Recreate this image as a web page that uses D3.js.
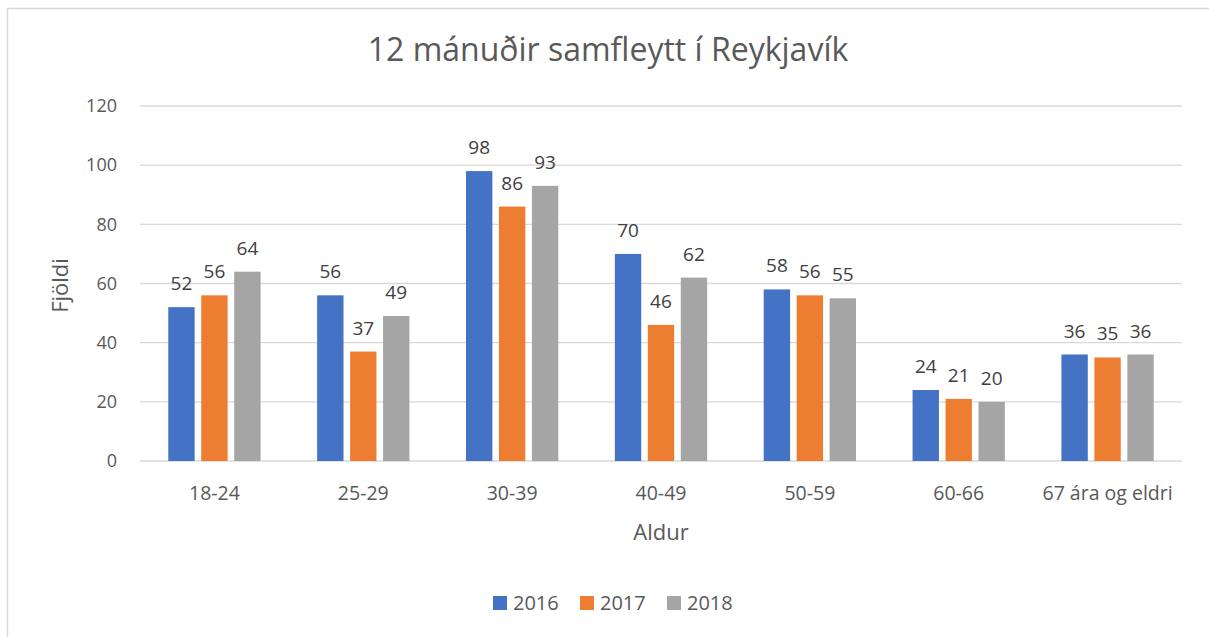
<!DOCTYPE html>
<meta charset="utf-8">
<div id="chart"></div>
<style>
body { margin: 0; background: #fff; font-family: 'Open Sans', sans-serif; }
</style>
<script src="https://d3js.org/d3.v7.min.js"></script>
<script>
var categories = ['18-24', '25-29', '30-39', '40-49', '50-59', '60-66', '67 ára og eldri'];
var years = ['2016', '2017', '2018'];
var values2016 = [52, 56, 98, 70, 58, 24, 36];
var values2017 = [56, 37, 86, 46, 56, 21, 35];
var values2018 = [64, 49, 93, 62, 55, 20, 36];
var yTicks = [0, 20, 40, 60, 80, 100, 120];

var series = [values2016, values2017, values2018];
var colors = ['#4472C4', '#ED7D31', '#A5A5A5'];

var w = 1209, h = 637;
var plotLeft = 140, plotRight = 1182, plotTop = 106, plotBottom = 461;

var svg = d3.select('#chart').append('svg')
    .attr('width', w)
    .attr('height', h);

// frame of the chart (only top + left edges show)
svg.append('rect')
    .attr('x', 7.5).attr('y', 8.5)
    .attr('width', w + 20).attr('height', h + 20)
    .attr('fill', '#fff')
    .attr('stroke', '#d9d9d9')
    .attr('stroke-width', 1.5);

var x = d3.scaleBand()
    .domain(categories)
    .range([plotLeft, plotRight])
    .paddingInner(0.38)
    .paddingOuter(0.19);

var x1 = d3.scaleBand()
    .domain(years)
    .range([0, x.bandwidth()])
    .paddingInner(0.2);

var y = d3.scaleLinear()
    .domain([0, 120])
    .range([plotBottom, plotTop]);

// gridlines
svg.append('g')
    .selectAll('line')
    .data(yTicks)
    .enter().append('line')
    .attr('x1', plotLeft).attr('x2', plotRight)
    .attr('y1', function(d) { return y(d); })
    .attr('y2', function(d) { return y(d); })
    .attr('stroke', '#d9d9d9')
    .attr('stroke-width', 1.3);

// y tick labels
svg.append('g')
    .selectAll('text')
    .data(yTicks)
    .enter().append('text')
    .attr('x', 117)
    .attr('y', function(d) { return y(d); })
    .attr('dy', '0.35em')
    .attr('text-anchor', 'end')
    .style('font-size', '18px')
    .style('fill', '#595959')
    .text(function(d) { return d; });

// bars
var groups = svg.selectAll('.grp')
    .data(categories)
    .enter().append('g')
    .attr('class', 'grp')
    .attr('transform', function(d) { return 'translate(' + x(d) + ',0)'; });

years.forEach(function(yr, s) {
    groups.append('rect')
        .attr('x', x1(yr))
        .attr('width', x1.bandwidth())
        .attr('y', function(d, i) { return y(series[s][i]); })
        .attr('height', function(d, i) { return plotBottom - y(series[s][i]); })
        .attr('fill', colors[s]);

    groups.append('text')
        .attr('x', x1(yr) + x1.bandwidth() / 2)
        .attr('y', function(d, i) { return y(series[s][i]) - 17; })
        .attr('text-anchor', 'middle')
        .style('font-size', '19px')
        .style('fill', '#404040')
        .text(function(d, i) { return series[s][i]; });
});

// x category labels
svg.append('g')
    .selectAll('text')
    .data(categories)
    .enter().append('text')
    .attr('x', function(d) { return x(d) + x.bandwidth() / 2; })
    .attr('y', 493)
    .attr('dy', '0.35em')
    .attr('text-anchor', 'middle')
    .style('font-size', '19.5px')
    .style('fill', '#595959')
    .text(function(d) { return d; });

// axis titles
svg.append('text')
    .attr('x', (plotLeft + plotRight) / 2)
    .attr('y', 532)
    .attr('dy', '0.35em')
    .attr('text-anchor', 'middle')
    .style('font-size', '22px')
    .style('fill', '#595959')
    .text('Aldur');

svg.append('text')
    .attr('transform', 'translate(60,' + ((plotTop + plotBottom) / 2 + 2) + ') rotate(-90)')
    .attr('dy', '0.35em')
    .attr('text-anchor', 'middle')
    .style('font-size', '22px')
    .style('fill', '#595959')
    .text('Fjöldi');

// title
svg.append('text')
    .attr('x', 608)
    .attr('y', 50)
    .attr('dy', '0.35em')
    .attr('text-anchor', 'middle')
    .style('font-size', '32px')
    .style('fill', '#595959')
    .text('12 mánuðir samfleytt í Reykjavík');

// legend
var legend = svg.selectAll('.legend')
    .data(years)
    .enter().append('g')
    .attr('class', 'legend')
    .attr('transform', function(d, i) { return 'translate(' + (493 + i * 87) + ',603)'; });

legend.append('rect')
    .attr('x', 0).attr('y', -7)
    .attr('width', 14).attr('height', 14)
    .attr('fill', function(d, i) { return colors[i]; });

legend.append('text')
    .attr('x', 20)
    .attr('dy', '0.35em')
    .style('font-size', '20px')
    .style('fill', '#595959')
    .text(function(d) { return d; });
</script>
